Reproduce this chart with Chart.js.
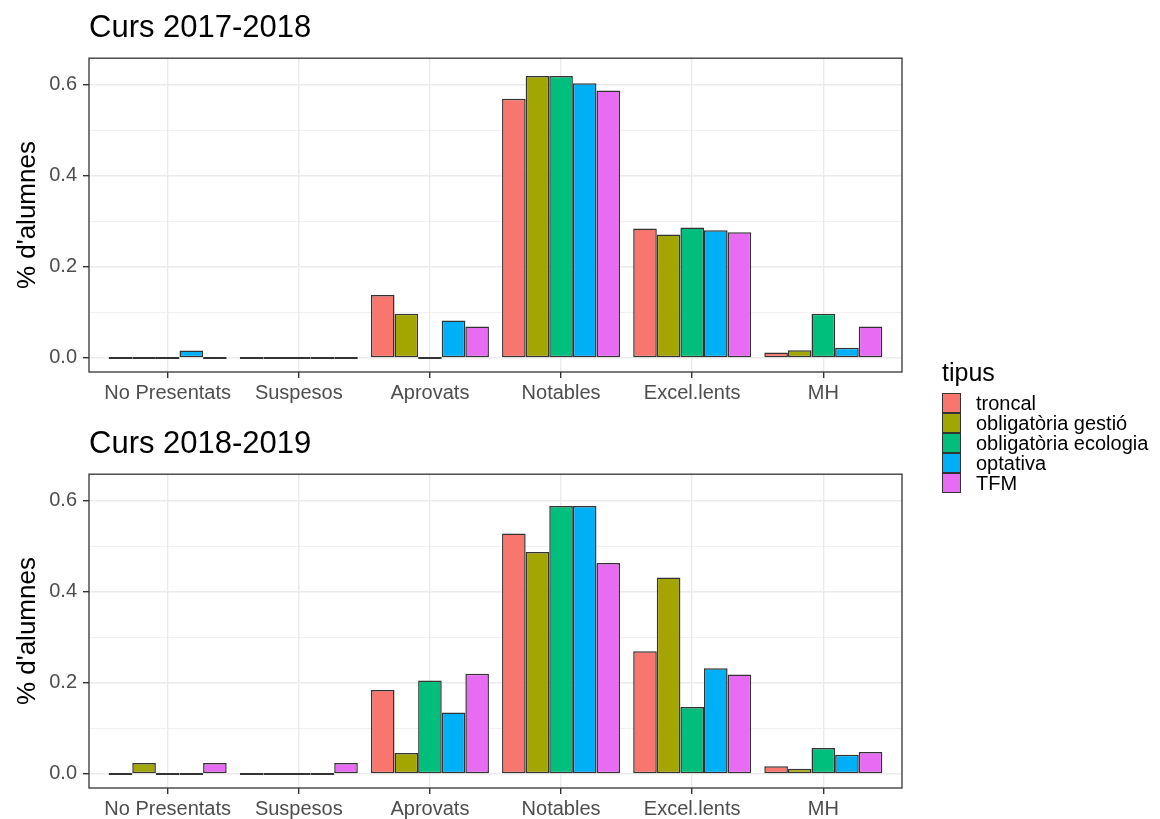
<!DOCTYPE html>
<html>
<head>
<meta charset="utf-8">
<script src="https://cdn.jsdelivr.net/npm/chart.js@4"></script>
<style>
  html, body { margin: 0; padding: 0; background: #fff; overflow: hidden; }
  body { width: 1160px; height: 819px; position: relative; font-family: "Liberation Sans", Arial, sans-serif; }
  .panel { position: absolute; left: 0; width: 1160px; height: 410px; }
  #legend { position: absolute; left: 942px; top: 359px; }
  #legend .ttl { font-size: 25px; color: #000; margin-bottom: 8px; line-height: 26px; }
  #legend .row { display: flex; align-items: center; height: 20px; }
  #legend .key { width: 19px; height: 20px; box-sizing: border-box; border: 1.5px solid #333; margin-right: 15px; }
  #legend .lbl { font-size: 20px; color: #000; line-height: 20px; }
</style>
</head>
<body>
<div class="panel" style="top:0px"><canvas id="chart1"></canvas></div>
<div class="panel" style="top:416px"><canvas id="chart2"></canvas></div>
<div id="legend"></div>
<script>
const categories = ['No Presentats', 'Suspesos', 'Aprovats', 'Notables', 'Excel.lents', 'MH'];
const tipus = ['troncal', 'obligatòria gestió', 'obligatòria ecologia', 'optativa', 'TFM'];
const colors = ['#F8766D', '#A3A500', '#00BF7D', '#00B0F6', '#E76BF3'];
const yTicks = [0, 0.1, 0.2, 0.3, 0.4, 0.5, 0.6];

// Curs 2017-2018
const troncal1718 = [0, 0, 0.138, 0.569, 0.284, 0.012];
const gestio1718 = [0, 0, 0.097, 0.619, 0.271, 0.017];
const ecologia1718 = [0, 0, 0, 0.619, 0.286, 0.097];
const optativa1718 = [0.016, 0, 0.082, 0.603, 0.280, 0.022];
const tfm1718 = [0, 0, 0.069, 0.587, 0.276, 0.069];

// Curs 2018-2019
const troncal1819 = [0, 0, 0.184, 0.528, 0.269, 0.017];
const gestio1819 = [0.024, 0, 0.046, 0.487, 0.431, 0.011];
const ecologia1819 = [0, 0, 0.205, 0.588, 0.147, 0.057];
const optativa1819 = [0, 0, 0.135, 0.588, 0.232, 0.042];
const tfm1819 = [0.024, 0.024, 0.220, 0.463, 0.218, 0.048];

Chart.defaults.font.family = '"Liberation Sans", Arial, sans-serif';
Chart.defaults.animation = false;

const isMajor = v => Math.round(v * 10) % 2 === 0;

// marc del panell (estil theme_bw)
const panelBorder = {
    id: 'panelBorder',
    afterDatasetsDraw(chart) {
        const a = chart.chartArea;
        const ctx = chart.ctx;
        ctx.save();
        ctx.strokeStyle = '#333333';
        ctx.lineWidth = 1.3;
        ctx.strokeRect(a.left, a.top, a.right - a.left, a.bottom - a.top);
        ctx.restore();
    }
};

function makeChart(id, title, series) {
    const ctx = document.getElementById(id).getContext('2d');
    return new Chart(ctx, {
        type: 'bar',
        data: {
            datasets: series.map((vals, i) => ({
                label: tipus[i],
                data: vals.map((v, j) => ({ x: j, y: v })),
                backgroundColor: colors[i],
                borderColor: '#333333',
                borderWidth: 1.5,
                borderSkipped: false,
                minBarLength: 2,
                categoryPercentage: 0.9,
                barPercentage: 1.0
            }))
        },
        options: {
            responsive: true,
            maintainAspectRatio: false,
            layout: { padding: { left: 0, right: 258, top: 0, bottom: 0 } },
            plugins: {
                legend: { display: false },
                tooltip: { enabled: false },
                title: {
                    display: true,
                    text: title,
                    align: 'start',
                    fullSize: false,
                    color: '#000',
                    font: { size: 31, weight: 'normal' },
                    padding: { top: 10, bottom: 11 }
                }
            },
            scales: {
                x: {
                    type: 'linear',
                    min: -0.6,
                    max: 5.6,
                    offset: false,
                    afterBuildTicks: s => { s.ticks = categories.map((c, i) => ({ value: i })); },
                    afterFit: s => { s.height = 38; },
                    ticks: {
                        callback: v => categories[v],
                        color: '#4D4D4D',
                        font: { size: 20 },
                        padding: 3,
                        maxRotation: 0,
                        minRotation: 0,
                        autoSkip: false
                    },
                    grid: {
                        offset: false,
                        color: '#EBEBEB',
                        lineWidth: 1.4,
                        tickColor: '#333333',
                        tickLength: 6
                    },
                    border: { display: false }
                },
                y: {
                    min: -0.031,
                    max: 0.658,
                    afterBuildTicks: s => { s.ticks = yTicks.map(v => ({ value: v })); },
                    afterFit: s => { s.width = 89; },
                    ticks: {
                        callback: v => isMajor(v) ? v.toFixed(1) : '',
                        color: '#4D4D4D',
                        font: { size: 20 },
                        padding: 6
                    },
                    grid: {
                        color: '#EBEBEB',
                        lineWidth: c => isMajor(c.tick.value) ? 1.4 : 0.7,
                        tickColor: c => isMajor(c.tick.value) ? '#333333' : 'rgba(0,0,0,0)',
                        tickLength: 6
                    },
                    border: { display: false },
                    title: {
                        display: true,
                        text: "% d'alumnes",
                        color: '#000',
                        font: { size: 26 },
                        padding: { top: 12, bottom: 0 }
                    }
                }
            }
        },
        plugins: [panelBorder]
    });
}

makeChart('chart1', 'Curs 2017-2018', [troncal1718, gestio1718, ecologia1718, optativa1718, tfm1718]);
makeChart('chart2', 'Curs 2018-2019', [troncal1819, gestio1819, ecologia1819, optativa1819, tfm1819]);

// llegenda compartida
const legend = document.getElementById('legend');
let html = '<div class="ttl">tipus</div>';
tipus.forEach((t, i) => {
    html += '<div class="row"><div class="key" style="background:' + colors[i] + '"></div><div class="lbl">' + t + '</div></div>';
});
legend.innerHTML = html;
</script>
</body>
</html>
